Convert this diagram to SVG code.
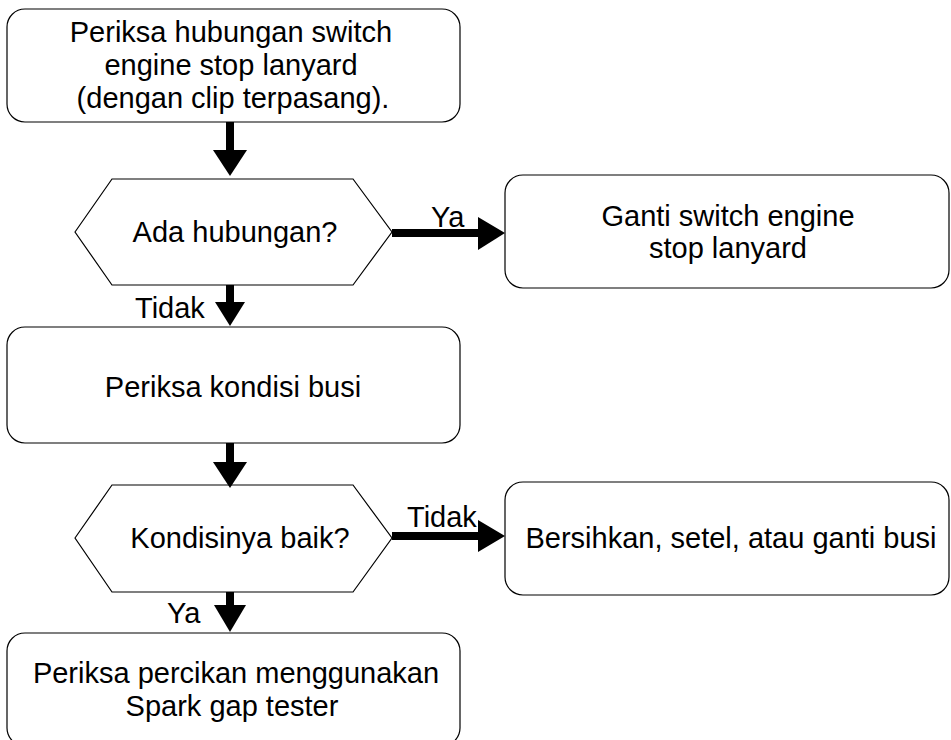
<svg xmlns="http://www.w3.org/2000/svg" width="951" height="740" viewBox="0 0 951 740">
<style>
.box{fill:#fff;stroke:#000;stroke-width:1.2}
.t{font-family:"Liberation Sans",Arial,sans-serif;font-size:29px;fill:#000;text-anchor:middle}
.l{font-family:"Liberation Sans",Arial,sans-serif;font-size:29px;fill:#000}
.sh{stroke:#000;stroke-width:8;fill:none}
.hd{fill:#000}
</style>
<rect width="951" height="740" fill="#fff"/>
<g id="n1">
<rect class="box" x="7" y="9" width="453" height="113" rx="18"/>
<text class="t" x="231" y="42">Periksa hubungan switch</text>
<text class="t" x="231" y="75">engine stop lanyard</text>
<text class="t" x="233" y="108"> (dengan clip terpasang).</text>
</g>
<g id="n2">
<polygon class="box" points="75,232 112,179 353,179 392,232 353,285 112,285"/>
<text class="t" x="235" y="242">Ada hubungan?</text>
</g>
<g id="n3">
<rect class="box" x="505" y="175" width="444" height="113" rx="18"/>
<text class="t" x="728" y="226">Ganti switch engine</text>
<text class="t" x="728" y="258">stop lanyard</text>
</g>
<g id="n4">
<rect class="box" x="7" y="327" width="453" height="116" rx="18"/>
<text class="t" x="233" y="397">Periksa kondisi busi</text>
</g>
<g id="n5">
<polygon class="box" points="75,538 112,485 353,485 392,538 353,592 112,592"/>
<text class="t" x="240" y="548">Kondisinya baik?</text>
</g>
<g id="n6">
<rect class="box" x="505" y="482" width="444" height="113" rx="18"/>
<text class="t" x="731" y="548">Bersihkan, setel, atau ganti busi</text>
</g>
<g id="n7">
<rect class="box" x="7" y="633" width="453" height="113" rx="18"/>
<text class="t" x="236" y="683">Periksa percikan menggunakan</text>
<text class="t" x="232" y="716">Spark gap tester</text>
</g>
<g id="connectors">
<line class="sh" x1="230" y1="122" x2="230" y2="151"/>
<polygon class="hd" points="213,150 247,150 230,176"/>
<line class="sh" x1="392" y1="233" x2="479" y2="233"/>
<polygon class="hd" points="478,217 478,250 505,233"/>
<text class="l" x="431" y="227">Ya</text>
<line class="sh" x1="230" y1="285" x2="230" y2="303"/>
<polygon class="hd" points="215,302 245,302 230,326"/>
<text class="l" x="135" y="318">Tidak</text>
<line class="sh" x1="230" y1="443" x2="230" y2="463"/>
<polygon class="hd" points="213,462 247,462 230,488"/>
<line class="sh" x1="392" y1="536" x2="479" y2="536"/>
<polygon class="hd" points="478,520 478,552 505,536"/>
<text class="l" x="407" y="527">Tidak</text>
<line class="sh" x1="230" y1="592" x2="230" y2="606"/>
<polygon class="hd" points="214,605 246,605 230,632"/>
<text class="l" x="167" y="623">Ya</text>
</g>
</svg>
